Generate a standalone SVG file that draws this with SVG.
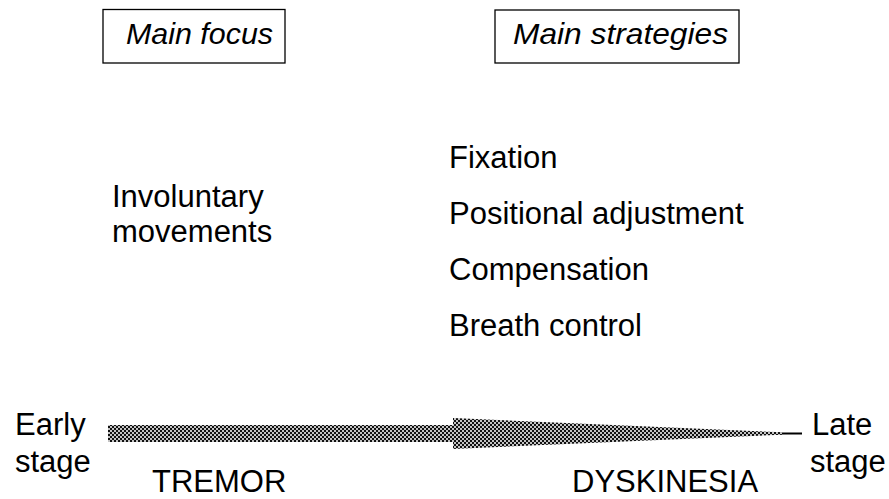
<svg xmlns="http://www.w3.org/2000/svg" width="889" height="499" viewBox="0 0 889 499">
  <style>
    .t { font-family: "Liberation Sans", Arial, sans-serif; font-size: 31px; fill: #000; }
    .hd { font-family: "Liberation Sans", Arial, sans-serif; font-size: 30px; font-style: italic; fill: #000; }
    .box { fill: #fff; stroke: #000; stroke-width: 1.3; }
  </style>
  <defs>
    <!-- dithered halftone fill for the progression arrow -->
    <pattern id="dots" width="4" height="4" patternUnits="userSpaceOnUse">
      <rect width="4" height="4" fill="#111"/>
      <circle cx="1" cy="1" r="1" fill="#fff"/>
      <circle cx="3" cy="3" r="1" fill="#fff"/>
    </pattern>
  </defs>
  <rect width="889" height="499" fill="#fff"/>

  <g id="main-focus">
    <rect class="box" x="103" y="9.5" width="182" height="53.5"/>
    <text class="hd" x="126" y="44" textLength="147" lengthAdjust="spacingAndGlyphs">Main focus</text>
  </g>

  <g id="main-strategies">
    <rect class="box" x="495" y="10" width="244" height="53"/>
    <text class="hd" x="513" y="44" textLength="215" lengthAdjust="spacingAndGlyphs">Main strategies</text>
  </g>

  <g id="involuntary-movements">
    <text class="t" x="112" y="207">Involuntary</text>
    <text class="t" x="112" y="242">movements</text>
  </g>

  <g id="strategies-list">
    <text class="t" x="449" y="168">Fixation</text>
    <text class="t" x="449" y="224">Positional adjustment</text>
    <text class="t" x="449" y="280">Compensation</text>
    <text class="t" x="449" y="336">Breath control</text>
  </g>

  <g id="early-stage">
    <text class="t" x="15" y="435">Early</text>
    <text class="t" x="15" y="472">stage</text>
  </g>

  <g id="late-stage">
    <text class="t" x="812" y="435">Late</text>
    <text class="t" x="810" y="472">stage</text>
  </g>

  <g id="tremor">
    <text class="t" x="152" y="492">TREMOR</text>
  </g>

  <g id="dyskinesia">
    <text class="t" x="572" y="492">DYSKINESIA</text>
  </g>

  <g id="connectors">
    <!-- shaft, widened head and tapering tail of the progression arrow -->
    <line x1="760" y1="433.5" x2="802" y2="433.5" stroke="#000" stroke-width="2"/>
    <path d="M108,425 H453 V418 L782,432.3 V434.7 L453,449 V442 H108 Z" fill="url(#dots)"/>
  </g>
</svg>
